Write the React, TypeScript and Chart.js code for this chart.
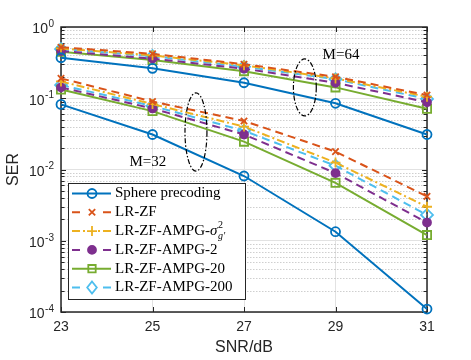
import React, { useEffect, useRef } from 'react';
import { Chart, registerables } from 'chart.js';

Chart.register(...registerables);

// ---- data ----
const snr = [23, 25, 27, 29, 31];
const xTickValues = [23, 25, 27, 29, 31];
const yDecades = [0, -1, -2, -3, -4];

// M = 64
const sphere64 = [0.37, 0.263, 0.165, 0.085, 0.031];
const lrzf64 = [0.52, 0.42, 0.3, 0.2, 0.111];
const sigma64 = [0.5, 0.4, 0.29, 0.19, 0.105];
const ampg2_64 = [0.46, 0.36, 0.26, 0.165, 0.088];
const ampg20_64 = [0.45, 0.344, 0.24, 0.142, 0.071];
const ampg200_64 = [0.49, 0.39, 0.277, 0.185, 0.098];

// M = 32
const sphere32 = [0.082, 0.031, 0.0081, 0.00134, 0.00011];
const lrzf32 = [0.19, 0.09, 0.048, 0.0178, 0.0042];
const sigma32 = [0.172, 0.083, 0.04, 0.0125, 0.003];
const ampg2_32 = [0.142, 0.072, 0.031, 0.0089, 0.0018];
const ampg20_32 = [0.133, 0.066, 0.0246, 0.0065, 0.0012];
const ampg200_32 = [0.153, 0.078, 0.035, 0.0113, 0.0023];

// annotations (data coordinates)
const ellipseX = [25.95, 28.33];
const ellipseTop = [0.119, 0.356];
const ellipseBottom = [0.0095, 0.0564];
const ellipseHalfWidth = [0.24, 0.25];
const groupLabels = ['M=32', 'M=64'];
const groupLabelX = [24.9, 29.12];
const groupLabelY = [0.0127, 0.405];

const seriesDefs = [
  { label: 'Sphere precoding', m64: sphere64, m32: sphere32, color: '#0072BD', dash: [] as number[], marker: 'circle', filled: false, r: 4.5 },
  { label: 'LR-ZF', m64: lrzf64, m32: lrzf32, color: '#D95319', dash: [8, 5], marker: 'crossRot', filled: false, r: 4.5 },
  { label: 'SIGMA', m64: sigma64, m32: sigma32, color: '#EDB120', dash: [8, 3, 2, 3], marker: 'cross', filled: false, r: 5 },
  { label: 'LR-ZF-AMPG-2', m64: ampg2_64, m32: ampg2_32, color: '#7E2F8E', dash: [8, 5], marker: 'circle', filled: true, r: 4 },
  { label: 'LR-ZF-AMPG-20', m64: ampg20_64, m32: ampg20_32, color: '#77AC30', dash: [] as number[], marker: 'rect', filled: false, r: 5.8 },
  { label: 'LR-ZF-AMPG-200', m64: ampg200_64, m32: ampg200_32, color: '#4DBEEE', dash: [8, 5], marker: 'rectRot', filled: false, r: 6 },
];

const AXIS_COLOR = '#262626';
const SANS = '"Liberation Sans", Arial, Helvetica, sans-serif';
const SERIF = '"Liberation Serif", "Times New Roman", serif';

function drawMarker(ctx: CanvasRenderingContext2D, type: string, x: number, y: number, r: number, color: string, filled: boolean) {
  ctx.save();
  ctx.setLineDash([]);
  ctx.strokeStyle = color;
  ctx.fillStyle = color;
  ctx.lineWidth = 1.8;
  ctx.beginPath();
  if (type === 'circle') {
    ctx.arc(x, y, r, 0, Math.PI * 2);
    if (filled) ctx.fill();
    ctx.stroke();
  } else if (type === 'crossRot') {
    const d = r * Math.SQRT1_2;
    ctx.moveTo(x - d, y - d); ctx.lineTo(x + d, y + d);
    ctx.moveTo(x - d, y + d); ctx.lineTo(x + d, y - d);
    ctx.stroke();
  } else if (type === 'cross') {
    ctx.moveTo(x - r, y); ctx.lineTo(x + r, y);
    ctx.moveTo(x, y - r); ctx.lineTo(x, y + r);
    ctx.stroke();
  } else if (type === 'rect') {
    const s = r * Math.SQRT1_2;
    ctx.rect(x - s, y - s, 2 * s, 2 * s);
    ctx.stroke();
  } else if (type === 'rectRot') {
    ctx.moveTo(x, y - r); ctx.lineTo(x + r * 0.8, y); ctx.lineTo(x, y + r); ctx.lineTo(x - r * 0.8, y); ctx.closePath();
    ctx.stroke();
  }
  ctx.restore();
}

const backgroundPlugin = {
  id: 'matlabBackground',
  beforeDatasetsDraw(chart: any) {
    const { ctx, chartArea: a, scales } = chart;
    const ys = scales.y;
    const xs = scales.x;
    ctx.save();
    // minor dotted grid + minor ticks
    ctx.strokeStyle = 'rgba(38,38,38,0.22)';
    ctx.lineWidth = 1;
    ctx.setLineDash([1.5, 1.5]);
    for (const k of yDecades) {
      if (k === 0) continue;
      for (let m = 2; m <= 9; m++) {
        const py = Math.round(ys.getPixelForValue(m * Math.pow(10, k))) + 0.5;
        ctx.beginPath();
        ctx.moveTo(a.left, py);
        ctx.lineTo(a.right, py);
        ctx.stroke();
      }
    }
    ctx.setLineDash([]);
    ctx.strokeStyle = AXIS_COLOR;
    ctx.lineWidth = 1;
    for (const k of yDecades) {
      if (k === 0) continue;
      for (let m = 2; m <= 9; m++) {
        const py = Math.round(ys.getPixelForValue(m * Math.pow(10, k))) + 0.5;
        ctx.beginPath();
        ctx.moveTo(a.left, py); ctx.lineTo(a.left + 3.5, py);
        ctx.moveTo(a.right, py); ctx.lineTo(a.right - 3.5, py);
        ctx.stroke();
      }
    }
    // major ticks
    for (const k of yDecades) {
      const py = Math.round(ys.getPixelForValue(Math.pow(10, k))) + 0.5;
      ctx.beginPath();
      ctx.moveTo(a.left, py); ctx.lineTo(a.left + 5, py);
      ctx.moveTo(a.right, py); ctx.lineTo(a.right - 5, py);
      ctx.stroke();
    }
    for (const v of xTickValues) {
      const px = Math.round(xs.getPixelForValue(v)) + 0.5;
      ctx.beginPath();
      ctx.moveTo(px, a.bottom); ctx.lineTo(px, a.bottom - 5);
      ctx.moveTo(px, a.top); ctx.lineTo(px, a.top + 5);
      ctx.stroke();
    }
    // frame
    ctx.lineWidth = 1.5;
    ctx.strokeRect(a.left, a.top, a.right - a.left, a.bottom - a.top);

    // tick labels
    ctx.fillStyle = AXIS_COLOR;
    ctx.textBaseline = 'middle';
    for (const k of yDecades) {
      const py = ys.getPixelForValue(Math.pow(10, k));
      const exp = String(k);
      ctx.font = `10px ${SANS}`;
      const ew = ctx.measureText(exp).width;
      ctx.font = `14px ${SANS}`;
      const bw = ctx.measureText('10').width;
      const right = a.left - 7;
      ctx.textAlign = 'left';
      ctx.fillText('10', right - ew - bw - 0.5, py + 2.5);
      ctx.font = `10px ${SANS}`;
      ctx.fillText(exp, right - ew, py - 3);
    }
    ctx.font = `14px ${SANS}`;
    ctx.textAlign = 'center';
    for (const v of xTickValues) {
      ctx.fillText(String(v), xs.getPixelForValue(v), a.bottom + 15);
    }
    // axis titles
    ctx.font = `16px ${SANS}`;
    ctx.fillText('SNR/dB', (a.left + a.right) / 2, a.bottom + 36);
    ctx.save();
    ctx.translate(14, (a.top + a.bottom) / 2);
    ctx.rotate(-Math.PI / 2);
    ctx.fillText('SER', 0, 0);
    ctx.restore();
    ctx.restore();
  },
  afterDatasetsDraw(chart: any) {
    const { ctx, scales } = chart;
    const xs = scales.x;
    const ys = scales.y;
    ctx.save();
    // ellipses
    ctx.strokeStyle = '#000';
    ctx.lineWidth = 1.2;
    ctx.setLineDash([5, 2, 1.5, 2]);
    for (let i = 0; i < ellipseX.length; i++) {
      const cx = xs.getPixelForValue(ellipseX[i]);
      const rx = xs.getPixelForValue(ellipseX[i] + ellipseHalfWidth[i]) - cx;
      const yt = ys.getPixelForValue(ellipseTop[i]);
      const yb = ys.getPixelForValue(ellipseBottom[i]);
      ctx.beginPath();
      ctx.ellipse(cx, (yt + yb) / 2, rx, (yb - yt) / 2, 0, 0, Math.PI * 2);
      ctx.stroke();
    }
    ctx.setLineDash([]);
    ctx.fillStyle = '#000';
    ctx.font = `15px ${SERIF}`;
    ctx.textAlign = 'center';
    ctx.textBaseline = 'middle';
    for (let i = 0; i < groupLabels.length; i++) {
      ctx.fillText(groupLabels[i], xs.getPixelForValue(groupLabelX[i]), ys.getPixelForValue(groupLabelY[i]));
    }

    // legend
    const L = 68, T = 183, R = 245, B = 299;
    ctx.fillStyle = '#fff';
    ctx.fillRect(L, T, R - L, B - T);
    ctx.strokeStyle = AXIS_COLOR;
    ctx.lineWidth = 1;
    ctx.strokeRect(L + 0.5, T + 0.5, R - L, B - T);
    seriesDefs.forEach((s, i) => {
      const y = T + 10.5 + i * 18.8;
      ctx.save();
      ctx.strokeStyle = s.color;
      ctx.lineWidth = 2;
      // legend sample: left stub, marker, right stub
      if (s.dash.length) {
        ctx.beginPath();
        ctx.setLineDash(s.dash);
        ctx.moveTo(72, y); ctx.lineTo(85, y);
        ctx.moveTo(111, y); ctx.lineTo(98, y);
        ctx.stroke();
      } else {
        ctx.beginPath();
        ctx.moveTo(72, y); ctx.lineTo(111, y);
        ctx.stroke();
      }
      ctx.restore();
      drawMarker(ctx, s.marker, 92, y, s.r * (s.marker === 'rect' ? 0.9 : 1), s.color, s.filled);
      ctx.fillStyle = '#000';
      ctx.textAlign = 'left';
      ctx.textBaseline = 'middle';
      ctx.font = `15px ${SERIF}`;
      const tx = 115;
      if (s.label === 'SIGMA') {
        const pre = 'LR-ZF-AMPG-';
        ctx.fillText(pre, tx, y);
        let x = tx + ctx.measureText(pre).width;
        ctx.font = `italic 15px ${SERIF}`;
        ctx.fillText('σ', x, y);
        x += ctx.measureText('σ').width + 0.5;
        ctx.font = `10px ${SERIF}`;
        ctx.fillText('2', x, y - 6);
        ctx.font = `italic 10px ${SERIF}`;
        ctx.fillText('g′', x, y + 5);
      } else {
        ctx.fillText(s.label, tx, y);
      }
    });
    ctx.restore();
  },
};

export default function App() {
  const ref = useRef<HTMLCanvasElement | null>(null);
  useEffect(() => {
    if (!ref.current) return;
    const datasets: any[] = [];
    for (const group of ['m64', 'm32'] as const) {
      for (const s of seriesDefs) {
        const vals = s[group];
        datasets.push({
          label: s.label,
          data: snr.map((x, i) => ({ x, y: vals[i] })),
          borderColor: s.color,
          backgroundColor: s.color,
          borderWidth: 2,
          borderDash: s.dash,
          pointStyle: s.marker,
          pointRadius: s.r,
          pointBorderWidth: 1.8,
          pointBorderColor: s.color,
          pointBackgroundColor: s.filled ? s.color : 'rgba(0,0,0,0)',
          fill: false,
          tension: 0,
          clip: false,
        });
      }
    }
    const chart = new Chart(ref.current, {
      type: 'line',
      data: { datasets },
      options: {
        animation: false,
        responsive: false,
        devicePixelRatio: 1,
        layout: { padding: { left: 0, top: 27, right: 44, bottom: 0 } },
        plugins: { legend: { display: false }, tooltip: { enabled: false } },
        scales: {
          x: {
            type: 'linear',
            min: 23,
            max: 31,
            afterBuildTicks: (s: any) => { s.ticks = xTickValues.map((v) => ({ value: v })); },
            afterFit: (s: any) => { s.height = 48; },
            ticks: { display: false },
            grid: { color: '#e2e2e2', lineWidth: 1, drawTicks: false },
            border: { display: false },
          },
          y: {
            type: 'logarithmic',
            min: 1e-4,
            max: 1,
            afterBuildTicks: (s: any) => { s.ticks = yDecades.map((k) => ({ value: Math.pow(10, k) })); },
            afterFit: (s: any) => { s.width = 61; },
            ticks: { display: false },
            grid: { color: '#e2e2e2', lineWidth: 1, drawTicks: false },
            border: { display: false },
          },
        },
      },
      plugins: [backgroundPlugin],
    });
    return () => chart.destroy();
  }, []);
  return (
    <div style={{ position: 'fixed', left: 0, top: 0, width: 471, height: 360, background: '#fff' }}>
      <canvas ref={ref} width={471} height={360} style={{ display: 'block' }} />
    </div>
  );
}
